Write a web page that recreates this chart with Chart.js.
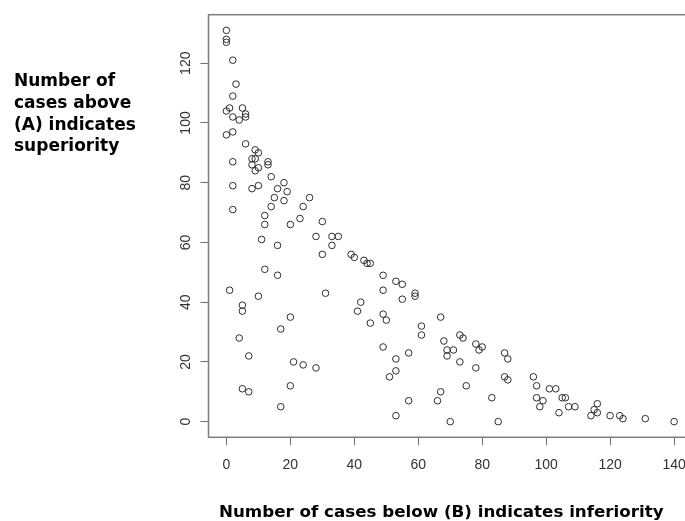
<!DOCTYPE html>
<html>
<head>
<meta charset="utf-8">
<script src="https://cdn.jsdelivr.net/npm/chart.js@4.4.0/dist/chart.umd.min.js"></script>
<style>
  html, body { margin: 0; padding: 0; background: #fff; overflow: hidden; }
  #wrap { position: relative; width: 700px; height: 521px; }
</style>
</head>
<body>
<div id="wrap"><canvas id="myChart" width="700" height="521"></canvas></div>
<script>
// cases below (B) for each item
const below = [0, 0, 0, 2, 3, 2, 0, 1, 5, 6, 6, 2, 4, 0, 2, 6, 9, 10, 2, 8,
    9, 8, 10, 9, 13, 13, 14, 2, 8, 10, 18, 16, 19, 15, 18, 26, 14, 24, 2, 12,
    23, 12, 20, 30, 11, 16, 28, 33, 35, 33, 30, 39, 40, 43, 44, 45, 49, 53, 55, 49,
    59, 59, 55, 12, 16, 1, 10, 31, 5, 5, 42, 41, 45, 49, 50, 20, 17, 4, 7, 21,
    24, 28, 49, 53, 57, 53, 51, 61, 61, 67, 68, 69, 69, 5, 7, 20, 17, 53, 57, 67,
    66, 70, 71, 73, 74, 73, 75, 78, 79, 80, 78, 83, 85, 87, 88, 87, 88, 96, 97, 97,
    98, 99, 101, 103, 104, 105, 106, 107, 109, 114, 115, 116, 116, 120, 123, 124, 131, 140];

// cases above (A) for the same items
const above = [131, 128, 127, 121, 113, 109, 104, 105, 105, 103, 102, 102, 101, 96, 97, 93, 91, 90, 87, 88,
    88, 86, 85, 84, 87, 86, 82, 79, 78, 79, 80, 78, 77, 75, 74, 75, 72, 72, 71, 69,
    68, 66, 66, 67, 61, 59, 62, 62, 62, 59, 56, 56, 55, 54, 53, 53, 49, 47, 46, 44,
    43, 42, 41, 51, 49, 44, 42, 43, 39, 37, 40, 37, 33, 36, 34, 35, 31, 28, 22, 20,
    19, 18, 25, 21, 23, 17, 15, 32, 29, 35, 27, 24, 22, 11, 10, 12, 5, 2, 7, 10,
    7, 0, 24, 29, 28, 20, 12, 26, 24, 25, 18, 8, 0, 23, 21, 15, 14, 15, 12, 8,
    5, 7, 11, 11, 3, 8, 8, 5, 5, 2, 4, 6, 3, 2, 2, 1, 1, 0];

const xTicks = [0, 20, 40, 60, 80, 100, 120, 140];
const yTicks = [0, 20, 40, 60, 80, 100, 120];

const xTitle = 'Number of cases below (B) indicates inferiority';
const yTitle = ['Number of', 'cases above', '(A) indicates', 'superiority'];

const points = below.map((b, i) => ({ x: b, y: above[i] }));

// box round the plot area, R style
const frame = {
    id: 'frame',
    afterDatasetsDraw(chart) {
        const { ctx, chartArea: a } = chart;
        ctx.save();
        ctx.strokeStyle = '#7d7d7d';
        ctx.lineWidth = 1.5;
        ctx.strokeRect(a.left, a.top, a.right - a.left, a.bottom - a.top);
        ctx.restore();
    }
};

// bold axis captions
const captions = {
    id: 'captions',
    afterDraw(chart) {
        const ctx = chart.ctx;
        ctx.save();
        ctx.fillStyle = '#000';
        ctx.textAlign = 'left';
        ctx.textBaseline = 'alphabetic';
        ctx.font = 'bold 17px "DejaVu Sans"';
        yTitle.forEach((line, i) => ctx.fillText(line, 14, 86 + i * 21.8));
        ctx.font = 'bold 16.7px "DejaVu Sans"';
        ctx.fillText(xTitle, 219, 517);
        ctx.restore();
    }
};

const tickFont = { family: '"Liberation Sans", Arial, sans-serif', size: 14 };

const config = {
    type: 'scatter',
    data: {
        datasets: [{
            data: points,
            pointStyle: 'circle',
            pointRadius: 3.3,
            pointHoverRadius: 3.3,
            borderWidth: 1,
            borderColor: '#2e2e2e',
            backgroundColor: 'rgba(0,0,0,0)'
        }]
    },
    options: {
        responsive: false,
        animation: false,
        devicePixelRatio: 1,
        layout: { padding: { left: 0, top: 14.7, right: 8, bottom: 0 } },
        plugins: {
            legend: { display: false },
            tooltip: { enabled: false }
        },
        scales: {
            x: {
                type: 'linear',
                min: -5.6,
                max: 145.6,
                afterBuildTicks: s => { s.ticks = xTicks.map(v => ({ value: v })); },
                afterFit: s => { s.height = 521 - 437.3; },
                border: { display: false },
                grid: { drawOnChartArea: false, drawTicks: true, tickLength: 8, color: '#6e6e6e', lineWidth: 1 },
                ticks: { font: tickFont, color: '#333', padding: 11, maxRotation: 0, minRotation: 0 }
            },
            y: {
                type: 'linear',
                min: -5.24,
                max: 136.24,
                afterBuildTicks: s => { s.ticks = yTicks.map(v => ({ value: v })); },
                afterFit: s => { s.width = 208.5; },
                border: { display: false },
                grid: { drawOnChartArea: false, drawTicks: true, tickLength: 8, color: '#6e6e6e', lineWidth: 1 },
                ticks: { font: tickFont, color: '#333', padding: 3, minRotation: 90, maxRotation: 90, crossAlign: 'center' }
            }
        }
    },
    plugins: [frame, captions]
};

const myChart = new Chart(document.getElementById('myChart'), config);
</script>
</body>
</html>
